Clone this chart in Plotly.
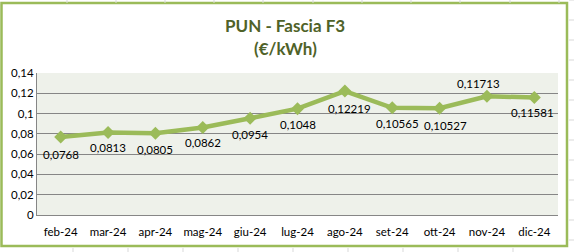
import plotly.graph_objects as go

categories = ["feb-24", "mar-24", "apr-24", "mag-24", "giu-24", "lug-24",
              "ago-24", "set-24", "ott-24", "nov-24", "dic-24"]
values = [0.0768, 0.0813, 0.0805, 0.0862, 0.0954, 0.1048,
          0.12219, 0.10565, 0.10527, 0.11713, 0.11581]
labels = ["0,0768", "0,0813", "0,0805", "0,0862", "0,0954", "0,1048",
          "0,12219", "0,10565", "0,10527", "0,11713", "0,11581"]
# label offsets (pixels) relative to each point
label_dx = [0, 0, 0, 0, 0, 0, 5, 5, 6, -8, -2]
label_dy = [-17, -15, -16, -15, -16, -16, -17, -16, -17, 13, -15]
y_ticks = [0, 0.02, 0.04, 0.06, 0.08, 0.1, 0.12, 0.14]
y_tick_text = ["0", "0,02", "0,04", "0,06", "0,08", "0,1", "0,12", "0,14"]
title_lines = ["PUN - Fascia F3", "(€/kWh)"]

W, H = 574, 252
L, R, T, B = 37, 16, 73, 37
PW, PH = W - L - R, H - T - B

def px(x):
    return (x - L) / PW

def py(y):
    return 1 - (y - T) / PH

GREEN = "#9BBB59"
FONT = "Lato"

fig = go.Figure()
fig.add_trace(go.Scatter(
    x=categories, y=values, mode="lines+markers",
    line=dict(color=GREEN, width=4.5),
    marker=dict(symbol="diamond", size=10, color=GREEN),
    hoverinfo="skip", showlegend=False,
))

for c, v, t, dx, dy in zip(categories, values, labels, label_dx, label_dy):
    fig.add_annotation(x=c, y=v, text=t, showarrow=False, xshift=dx, yshift=dy,
                       font=dict(family=FONT, size=11.5, color="#000000"))

# title as two centred lines
for line, yc in zip(title_lines, [25, 48]):
    fig.add_annotation(xref="paper", yref="paper", x=px(285), y=py(yc),
                       xanchor="center", yanchor="middle", showarrow=False,
                       text="<b>%s</b>" % line,
                       font=dict(family=FONT, size=17, color="#4F6228"))

shapes = []
# faint spreadsheet cell lines around the chart
for xg in [67, 116, 165, 214, 263, 313, 362, 411, 460, 510, 559]:
    shapes.append(dict(type="line", xref="paper", yref="paper",
                       x0=px(xg), x1=px(xg), y0=py(0), y1=py(3),
                       line=dict(color="#D9D9D9", width=1)))
for xg in [73, 128, 183, 238, 293, 348, 403, 458, 513]:
    shapes.append(dict(type="line", xref="paper", yref="paper",
                       x0=px(xg), x1=px(xg), y0=py(248), y1=py(252),
                       line=dict(color="#D9D9D9", width=1)))
for yg in range(0, 252, 20):
    shapes.append(dict(type="line", xref="paper", yref="paper",
                       x0=px(569), x1=px(574), y0=py(yg), y1=py(yg),
                       line=dict(color="#D9D9D9", width=1)))
# chart border
shapes.append(dict(type="rect", xref="paper", yref="paper",
                   x0=px(1.5), x1=px(567), y0=py(246), y1=py(3),
                   line=dict(color=GREEN, width=2.5), fillcolor="rgba(0,0,0,0)",
                   layer="below"))

fig.update_layout(
    width=W, height=H,
    margin=dict(l=L, r=R, t=T, b=B),
    paper_bgcolor="#FFFFFF",
    plot_bgcolor="#EEF1EA",
    separators=",.",
    font=dict(family=FONT, size=11.5, color="#000000"),
    shapes=shapes,
)
fig.update_xaxes(type="category", showgrid=False, showline=True,
                 linecolor="#868686", linewidth=1, ticks="", ticklen=0,
                 ticklabelstandoff=6,
                 tickfont=dict(family=FONT, size=11.5), mirror=False,
                 range=[-0.5, len(categories) - 0.5], fixedrange=True)
fig.update_yaxes(range=[0, 0.14], tickvals=y_ticks, ticktext=y_tick_text,
                 showgrid=True, gridcolor="#868686", gridwidth=1,
                 showline=True, linecolor="#868686", linewidth=1,
                 zeroline=False, ticks="", tickfont=dict(family=FONT, size=11.5),
                 fixedrange=True)

fig.write_html("out.html")
